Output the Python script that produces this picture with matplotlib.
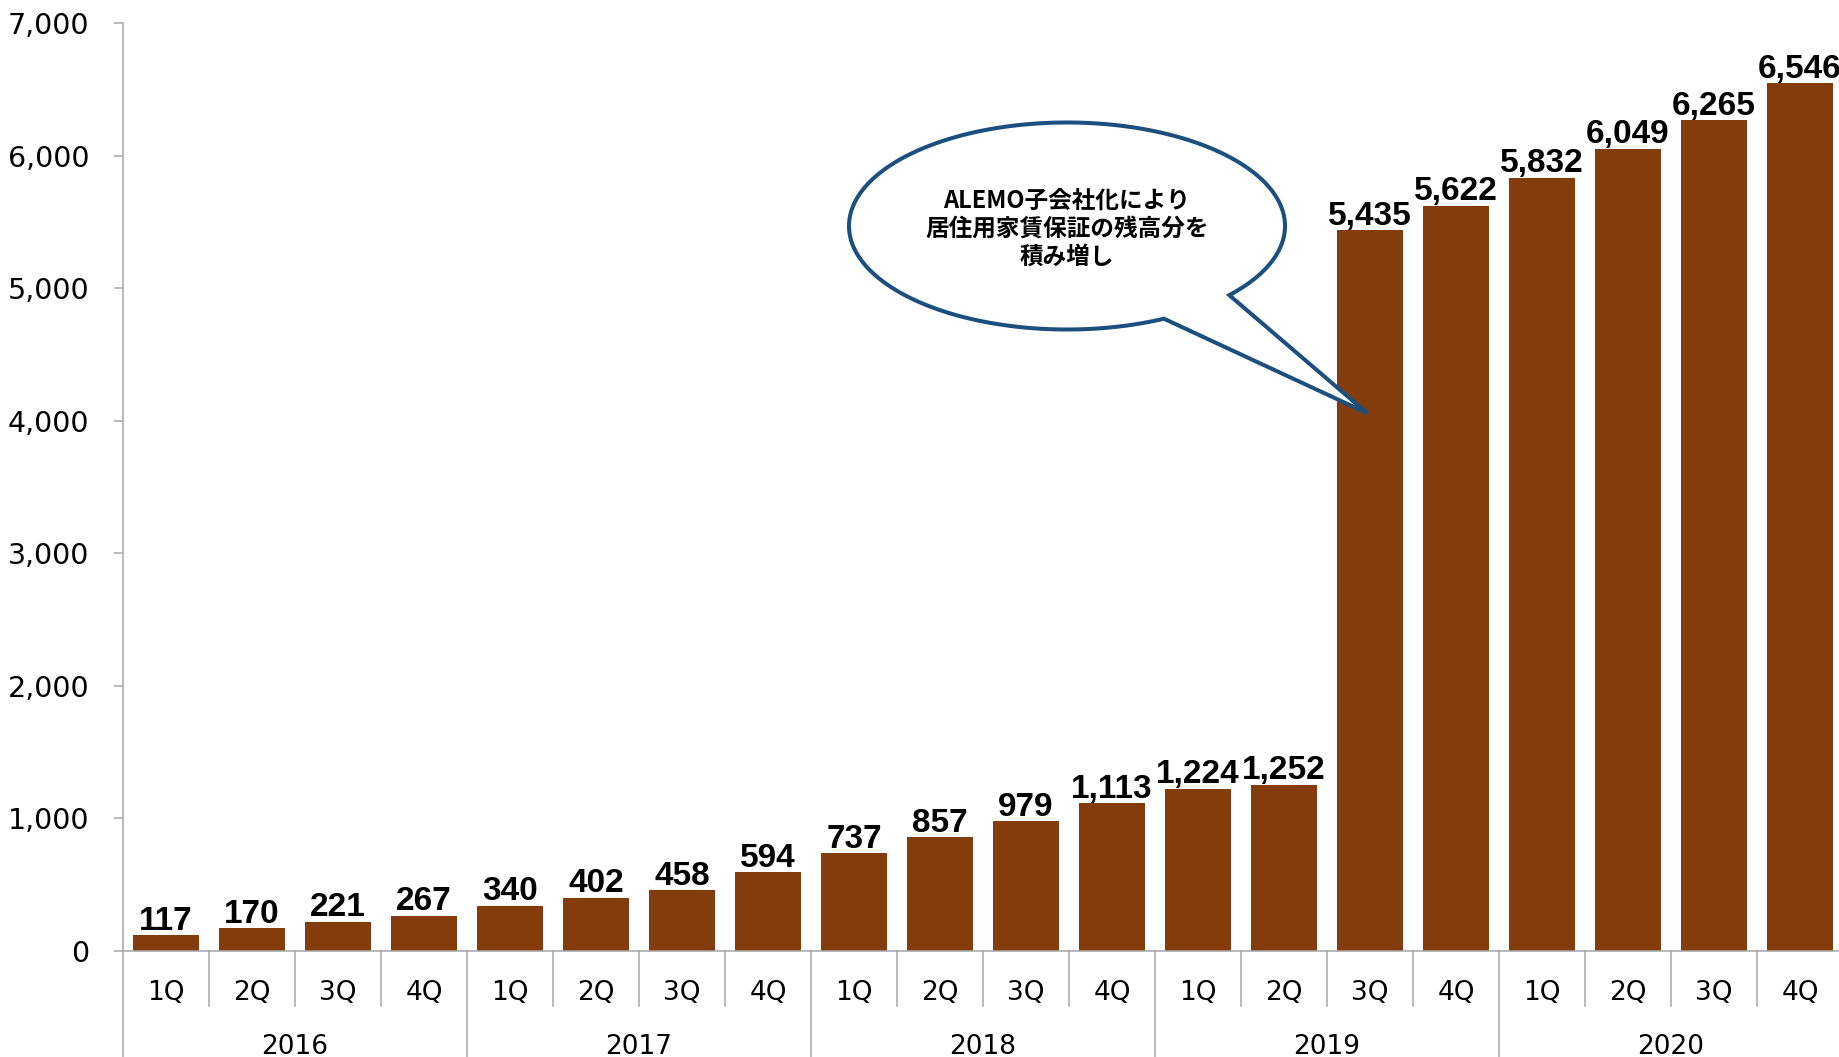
import matplotlib
matplotlib.use("Agg")
from matplotlib import pyplot as plt
from matplotlib.path import Path
from matplotlib.patches import PathPatch
from matplotlib.ticker import FuncFormatter
import numpy as np

# 四半期ごとの残高
years = ["2016", "2017", "2018", "2019", "2020"]
quarters = ["1Q", "2Q", "3Q", "4Q"]
values = [117, 170, 221, 267,
          340, 402, 458, 594,
          737, 857, 979, 1113,
          1224, 1252, 5435, 5622,
          5832, 6049, 6265, 6546]
note = "ALEMO子会社化により\n居住用家賃保証の残高分を\n積み増し"

bar_color = "#843C0C"
grey = "#A6A6A6"
W, H = 1839, 1057

plt.rcParams["font.family"] = ["DejaVu Sans"]
fig = plt.figure(figsize=(W / 100, H / 100), dpi=100)
# 軸の位置 (ピクセルで決める)
x0, x1, ytop, ybase = 123, 1843, 23, 951
ax = fig.add_axes([x0 / W, 1 - ybase / H, (x1 - x0) / W, (ybase - ytop) / H])

n = len(values)
x = np.arange(n)
ax.bar(x, values, width=0.77, color=bar_color, zorder=2)
ax.set_xlim(-0.5, n - 0.5)
ax.set_ylim(0, 7000)
ax.set_yticks(range(0, 7001, 1000))
ax.yaxis.set_major_formatter(FuncFormatter(lambda v, p: f"{int(v):,}"))
ax.tick_params(axis="y", length=9 * 0.72, width=1.1, color=grey,
               labelsize=20.5, pad=18)
ax.set_xticks([])

for s in ["top", "right"]:
    ax.spines[s].set_visible(False)
ax.spines["left"].set_color(grey)
ax.spines["left"].set_linewidth(1.1)
ax.spines["bottom"].set_color(grey)
ax.spines["bottom"].set_linewidth(1.1)

# 数値ラベル
for xi, v in zip(x, values):
    ax.annotate(f"{v:,}", (xi, v), xytext=(0, -1), textcoords="offset points",
                ha="center", va="bottom", fontsize=24, fontweight="bold",
                family=["Liberation Sans"], color="black")

# 軸の下のカテゴリ (四半期と年)
tr = ax.get_xaxis_transform()
h_px = ybase - ytop
q_bot = -(1006 - ybase) / h_px
y_bot = -(H - ybase) / h_px
for i in range(n):
    ax.text(i, -(993 - ybase) / h_px, quarters[i % 4], transform=tr,
            ha="center", va="center", fontsize=19)
    if i > 0:
        yb = y_bot if i % 4 == 0 else q_bot
        ax.plot([i - 0.5, i - 0.5], [0, yb], transform=tr, color=grey,
                lw=1.1, clip_on=False)
ax.plot([-0.5, -0.5], [0, y_bot], transform=tr, color=grey, lw=1.1, clip_on=False)
for j, yr in enumerate(years):
    ax.text(j * 4 + 1.5, -(1047 - ybase) / h_px, yr, transform=tr,
            ha="center", va="center", fontsize=19)

# 吹き出し
cx, cy, a, b = 1067, 226, 218, 103.5
t = np.radians(np.linspace(63.6, 401.9, 300))
px = cx + a * np.cos(t)
py = cy + b * np.sin(t)
px = np.append(px, [1367, px[0]])
py = np.append(py, [413, py[0]])
verts = np.column_stack([px / W, 1 - py / H])
codes = [Path.MOVETO] + [Path.LINETO] * (len(verts) - 2) + [Path.CLOSEPOLY]
callout = PathPatch(Path(verts, codes), facecolor="white", edgecolor="#1A4F7E",
                    lw=2.9, transform=fig.transFigure, zorder=5)
fig.patches.append(callout)
fig.text(cx / W, 1 - 229 / H, note, ha="center", va="center", fontsize=17,
         fontweight="bold", linespacing=1.2,
         family=["Noto Sans CJK JP", "DejaVu Sans"], zorder=6)

plt.savefig("out.png", dpi=100)
